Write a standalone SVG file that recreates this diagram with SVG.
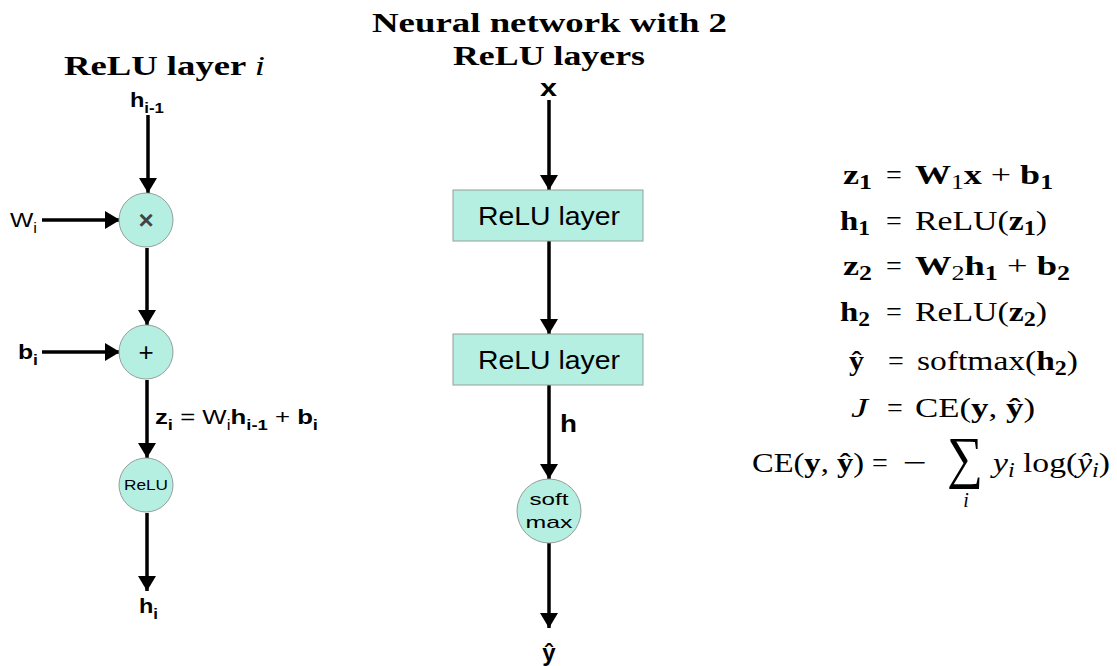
<svg xmlns="http://www.w3.org/2000/svg" width="1117" height="666" viewBox="0 0 1117 666">
<style>
.node{fill:#b5efe2;stroke:#949e9a;stroke-width:1}
.lbl{font-family:"Liberation Sans",Arial,sans-serif;fill:#000}
.b{font-weight:bold}
.title{font-family:"Liberation Serif","DejaVu Serif",serif;font-weight:bold;font-size:28px;fill:#000}
.eq{font-family:"Liberation Serif","DejaVu Serif",serif;font-size:28px;fill:#000}
.edge{stroke:#000;stroke-width:3.5;fill:none}
</style>
<defs>
<marker id="ah" viewBox="0 0 10 12" refX="10" refY="6" markerWidth="4.3" markerHeight="5.2" markerUnits="strokeWidth" orient="auto">
<path d="M0,0 L10,6 L0,12 z" fill="#000"/>
</marker>
</defs>
<rect width="1117" height="666" fill="#fff"/>

<text class="title" x="64" y="75" textLength="201" lengthAdjust="spacingAndGlyphs">ReLU layer <tspan font-style="italic" font-weight="normal">i</tspan></text>
<text class="title" x="372" y="32" textLength="355" lengthAdjust="spacingAndGlyphs">Neural network with 2</text>
<text class="title" x="453" y="65" textLength="192" lengthAdjust="spacingAndGlyphs">ReLU layers</text>

<g id="connectors">
<line class="edge" x1="148" y1="115" x2="148" y2="193" marker-end="url(#ah)"/>
<line class="edge" x1="42" y1="220" x2="120" y2="220" marker-end="url(#ah)"/>
<line class="edge" x1="147" y1="248" x2="147" y2="325" marker-end="url(#ah)"/>
<line class="edge" x1="42" y1="352" x2="120" y2="352" marker-end="url(#ah)"/>
<line class="edge" x1="147" y1="380" x2="147" y2="458" marker-end="url(#ah)"/>
<line class="edge" x1="147" y1="513" x2="147" y2="591" marker-end="url(#ah)"/>
<line class="edge" x1="549" y1="100" x2="549" y2="190" marker-end="url(#ah)"/>
<line class="edge" x1="549" y1="241" x2="549" y2="334" marker-end="url(#ah)"/>
<line class="edge" x1="549" y1="385" x2="549" y2="479" marker-end="url(#ah)"/>
<line class="edge" x1="549" y1="543" x2="549" y2="628" marker-end="url(#ah)"/>
</g>

<g id="in-h">
<text class="lbl b" x="130" y="107" font-size="21" textLength="34" lengthAdjust="spacingAndGlyphs">h<tspan font-size="15" dy="6">i-1</tspan></text>
</g>
<g id="in-W">
<text class="lbl" x="10" y="227" font-size="21" textLength="27" lengthAdjust="spacingAndGlyphs">W<tspan font-size="14" dy="6">i</tspan></text>
</g>
<g id="mult">
<circle class="node" cx="146" cy="220" r="27"/>
<text class="lbl b" x="146" y="229" font-size="26" text-anchor="middle" style="fill:#444">×</text>
</g>
<g id="in-b">
<text class="lbl b" x="18" y="359" font-size="21" textLength="20" lengthAdjust="spacingAndGlyphs">b<tspan font-size="15" dy="6">i</tspan></text>
</g>
<g id="add">
<circle class="node" cx="146" cy="352" r="27"/>
<text class="lbl" x="146" y="361" font-size="26" text-anchor="middle">+</text>
</g>
<g id="z-label">
<text class="lbl" x="155" y="424" font-size="21" textLength="163" lengthAdjust="spacingAndGlyphs"><tspan class="b">z</tspan><tspan font-size="15" dy="6" class="b">i</tspan><tspan dy="-6"> = W</tspan><tspan font-size="14" dy="6">i</tspan><tspan dy="-6" class="b">h</tspan><tspan font-size="15" dy="6" class="b">i-1</tspan><tspan dy="-6"> + </tspan><tspan class="b">b</tspan><tspan font-size="15" dy="6" class="b">i</tspan></text>
</g>
<g id="relu">
<circle class="node" cx="146" cy="485" r="27"/>
<text class="lbl" x="124" y="490" font-size="15" textLength="44" lengthAdjust="spacingAndGlyphs">ReLU</text>
</g>
<g id="out-h">
<text class="lbl b" x="139" y="613" font-size="21" textLength="19" lengthAdjust="spacingAndGlyphs">h<tspan font-size="15" dy="6">i</tspan></text>
</g>

<g id="in-x">
<text class="lbl b" x="540" y="96" font-size="23" textLength="17" lengthAdjust="spacingAndGlyphs">x</text>
</g>
<g id="relu-layer-1">
<rect class="node" x="453" y="190" width="190" height="51"/>
<text class="lbl" x="478" y="225" font-size="25" textLength="142" lengthAdjust="spacingAndGlyphs">ReLU layer</text>
</g>
<g id="relu-layer-2">
<rect class="node" x="453" y="334" width="190" height="51"/>
<text class="lbl" x="478" y="369" font-size="25" textLength="142" lengthAdjust="spacingAndGlyphs">ReLU layer</text>
</g>
<g id="h-label">
<text class="lbl b" x="560" y="432" font-size="23" textLength="17" lengthAdjust="spacingAndGlyphs">h</text>
</g>
<g id="softmax">
<circle class="node" cx="549" cy="511" r="32"/>
<text class="lbl" x="529.5" y="505" font-size="17" textLength="39" lengthAdjust="spacingAndGlyphs">soft</text>
<text class="lbl" x="525.5" y="528" font-size="17" textLength="47" lengthAdjust="spacingAndGlyphs">max</text>
</g>
<g id="out-y">
<text class="lbl b" x="549" y="661" font-size="24" text-anchor="middle">ŷ</text>
</g>

<g id="equations" class="eq">
<text x="843" y="184" textLength="29" lengthAdjust="spacingAndGlyphs"><tspan font-weight="bold">z</tspan><tspan font-weight="bold" font-size="20" dy="5">1</tspan></text>
<text x="894" y="184" text-anchor="middle">=</text>
<text x="915" y="184" textLength="138" lengthAdjust="spacingAndGlyphs"><tspan font-weight="bold">W</tspan><tspan font-size="20" dy="5">1</tspan><tspan dy="-5" font-weight="bold">x</tspan><tspan> + </tspan><tspan font-weight="bold">b</tspan><tspan font-weight="bold" font-size="20" dy="5">1</tspan></text>

<text x="840" y="230" textLength="30" lengthAdjust="spacingAndGlyphs"><tspan font-weight="bold">h</tspan><tspan font-weight="bold" font-size="20" dy="5">1</tspan></text>
<text x="894" y="230" text-anchor="middle">=</text>
<text x="915" y="230" textLength="132" lengthAdjust="spacingAndGlyphs">ReLU(<tspan font-weight="bold">z</tspan><tspan font-weight="bold" font-size="20" dy="5">1</tspan><tspan dy="-5">)</tspan></text>

<text x="843" y="275" textLength="29" lengthAdjust="spacingAndGlyphs"><tspan font-weight="bold">z</tspan><tspan font-weight="bold" font-size="20" dy="5">2</tspan></text>
<text x="894" y="275" text-anchor="middle">=</text>
<text x="915" y="275" textLength="155" lengthAdjust="spacingAndGlyphs"><tspan font-weight="bold">W</tspan><tspan font-size="20" dy="5">2</tspan><tspan dy="-5" font-weight="bold">h</tspan><tspan font-weight="bold" font-size="20" dy="5">1</tspan><tspan dy="-5"> + </tspan><tspan font-weight="bold">b</tspan><tspan font-weight="bold" font-size="20" dy="5">2</tspan></text>

<text x="840" y="321" textLength="30" lengthAdjust="spacingAndGlyphs"><tspan font-weight="bold">h</tspan><tspan font-weight="bold" font-size="20" dy="5">2</tspan></text>
<text x="894" y="321" text-anchor="middle">=</text>
<text x="915" y="321" textLength="132" lengthAdjust="spacingAndGlyphs">ReLU(<tspan font-weight="bold">z</tspan><tspan font-weight="bold" font-size="20" dy="5">2</tspan><tspan dy="-5">)</tspan></text>

<text x="849" y="370" font-weight="bold" textLength="15" lengthAdjust="spacingAndGlyphs">ŷ</text>
<text x="896" y="370" text-anchor="middle">=</text>
<text x="917" y="370" textLength="161" lengthAdjust="spacingAndGlyphs">softmax(<tspan font-weight="bold">h</tspan><tspan font-weight="bold" font-size="20" dy="5">2</tspan><tspan dy="-5">)</tspan></text>

<text x="851" y="417" font-style="italic" textLength="17" lengthAdjust="spacingAndGlyphs">J</text>
<text x="895" y="417" text-anchor="middle">=</text>
<text x="915" y="417" textLength="120" lengthAdjust="spacingAndGlyphs">CE(<tspan font-weight="bold">y</tspan>, <tspan font-weight="bold">ŷ</tspan>)</text>

<text x="752" y="472" textLength="112" lengthAdjust="spacingAndGlyphs">CE(<tspan font-weight="bold">y</tspan>, <tspan font-weight="bold">ŷ</tspan>)</text>
<text x="880" y="472" text-anchor="middle">=</text>
<text x="903" y="472" textLength="24" lengthAdjust="spacingAndGlyphs">−</text>
<text x="947" y="477" font-size="58" textLength="36" lengthAdjust="spacingAndGlyphs">∑</text>
<text x="966" y="507" font-size="20" font-style="italic" text-anchor="middle">i</text>
<text x="993" y="472" textLength="117" lengthAdjust="spacingAndGlyphs"><tspan font-style="italic">y</tspan><tspan font-style="italic" font-size="20" dy="5">i</tspan><tspan dy="-5"> log(</tspan><tspan font-style="italic">ŷ</tspan><tspan font-style="italic" font-size="20" dy="5">i</tspan><tspan dy="-5">)</tspan></text>
</g>
</svg>
